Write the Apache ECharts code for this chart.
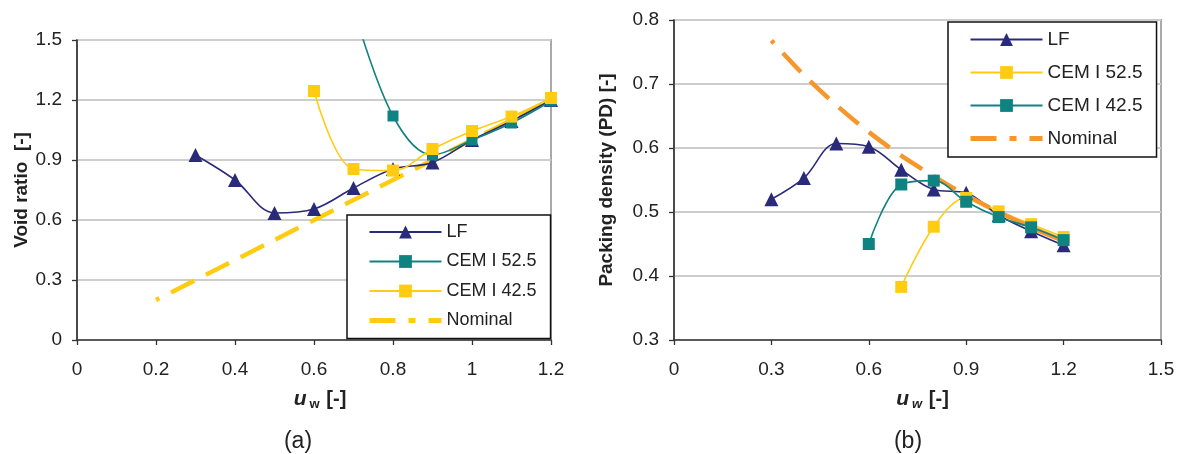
<!DOCTYPE html>
<html>
<head>
<meta charset="utf-8">
<title>Void ratio / packing density vs u_w</title>
<script src="https://cdn.jsdelivr.net/npm/echarts@6/dist/echarts.min.js"></script>
<style>html, body { margin: 0; background: #fff; }</style>
</head>
<body>
<div id="main" style="width:1184px; height:454px;"></div>
<script>
// ---- (a) void ratio ----
var lfU = [0.3, 0.4, 0.5, 0.6, 0.7, 0.8, 0.9, 1.0, 1.1, 1.2];
var voidLF = [0.925, 0.80, 0.635, 0.655, 0.76, 0.855, 0.888, 1.0, 1.095, 1.20];
var voidCem525U = [0.7, 0.8, 0.9, 1.0, 1.1, 1.2];
var voidCem525 = [1.66, 1.12, 0.925, 1.0, 1.085, 1.195];
var voidCem425U = [0.6, 0.7, 0.8, 0.9, 1.0, 1.1, 1.2];
var voidCem425 = [1.245, 0.855, 0.847, 0.955, 1.045, 1.117, 1.21];
var voidNomU = [0.2, 1.2];
var voidNom = [0.2, 1.2];

// ---- (b) packing density ----
var pdLF = [0.52, 0.553, 0.607, 0.602, 0.566, 0.535, 0.53, 0.495, 0.47, 0.448];
var pdCem525U = [0.7, 0.8, 0.9, 1.0, 1.1, 1.2];
var pdCem525 = [0.383, 0.477, 0.522, 0.501, 0.481, 0.461];
var pdCem425U = [0.6, 0.7, 0.8, 0.9, 1.0, 1.1, 1.2];
var pdCem425 = [0.45, 0.543, 0.549, 0.516, 0.492, 0.476, 0.456];
var pdNomU = [0.3, 0.4, 0.5, 0.6, 0.7, 0.8, 0.9, 1.0, 1.1, 1.2];
var pdNom = [0.768, 0.714, 0.667, 0.625, 0.588, 0.556, 0.526, 0.5, 0.476, 0.455];

var NAVY = '#2a2a7a', TEAL = '#0f8282', YELLOW = '#ffcc11', ORANGE = '#f7962a';
var FONT = '"Liberation Sans", Arial, sans-serif';

function pts(us, vs) {
    return us.map(function (u, i) { return [u, vs[i]]; });
}

function dataLine(name, idx, us, vs, color, symbol, size) {
    return {
        name: name, type: 'line', xAxisIndex: idx, yAxisIndex: idx,
        data: pts(us, vs), smooth: 0.35,
        symbol: symbol, symbolSize: size,
        lineStyle: { color: color, width: 1.6 },
        itemStyle: { color: color },
        emphasis: { disabled: true }
    };
}

function nomLine(name, idx, us, vs, color) {
    return {
        name: name, type: 'line', xAxisIndex: idx, yAxisIndex: idx,
        data: pts(us, vs), smooth: 0.35, symbol: 'none',
        lineStyle: { color: color, width: 4.5, type: [26, 13], dashOffset: 22, cap: 'butt' },
        itemStyle: { color: color },
        emphasis: { disabled: true }
    };
}

function xAxis(idx, max, interval, shift, subItalic) {
    return {
        gridIndex: idx, type: 'value', min: 0, max: max, interval: interval,
        name: '{u|u}{w|w}  {b|[-]}',
        nameLocation: 'middle', nameGap: 48,
        nameTextStyle: {
            padding: [0, 0, 0, shift],
            rich: {
                u: { fontFamily: FONT, fontSize: 21, fontWeight: 'bold', fontStyle: 'italic', color: '#222' },
                w: { fontFamily: FONT, fontSize: 13, fontWeight: 'bold', fontStyle: subItalic ? 'italic' : 'normal', color: '#222', padding: [10, 0, 0, 3] },
                b: { fontFamily: FONT, fontSize: 20, fontWeight: 'bold', color: '#222' }
            }
        },
        axisLine: { onZero: false, lineStyle: { color: '#333', width: 1.6 } },
        axisTick: { length: 5, lineStyle: { color: '#333', width: 1.3 } },
        axisLabel: { margin: 20, fontFamily: FONT, fontSize: 19, color: '#222' },
        splitLine: { show: false }
    };
}

function yAxis(idx, min, max, interval, name, gap) {
    return {
        gridIndex: idx, type: 'value', min: min, max: max, interval: interval,
        name: name, nameLocation: 'middle', nameGap: gap,
        nameTextStyle: { fontFamily: FONT, fontSize: 19, fontWeight: 'bold', color: '#222' },
        axisLine: { onZero: false, lineStyle: { color: '#333', width: 1.6 } },
        axisTick: { length: 5, lineStyle: { color: '#333', width: 1.3 } },
        axisLabel: { margin: 15, fontFamily: FONT, fontSize: 19, color: '#222' },
        splitLine: { lineStyle: { color: '#cdcdcd', width: 2 } }
    };
}

function legendBox(left, top, padding, gap, fontSize, names) {
    return {
        orient: 'vertical', left: left, top: top, padding: padding,
        itemGap: gap, itemWidth: 72, itemHeight: 16,
        borderColor: '#111', borderWidth: 1.5, backgroundColor: '#fff',
        selectedMode: false,
        formatter: function (n) { return n.replace(' (b)', ''); },
        textStyle: { fontFamily: FONT, fontSize: fontSize, color: '#222' },
        data: names
    };
}

// legend entry for the dashed nominal line: no marker, long-short-long dash
function nomEntry(name) {
    return {
        name: name,
        itemStyle: { opacity: 0 },
        lineStyle: { width: 5, type: [26, 13, 7, 13], dashOffset: 0 }
    };
}

var myChart = echarts.init(document.getElementById('main'));

var option = {
    animation: false,
    backgroundColor: '#fff',
    grid: [
        { left: 77, right: 633, top: 40, bottom: 114, show: true, borderColor: '#a9a9a9', borderWidth: 2 },
        { left: 674, right: 23, top: 20, bottom: 114, show: true, borderColor: '#a9a9a9', borderWidth: 2 }
    ],
    xAxis: [
        xAxis(0, 1.2, 0.2, 12, false),
        xAxis(1, 1.5, 0.3, 10, true)
    ],
    yAxis: [
        yAxis(0, 0, 1.5, 0.3, 'Void ratio  [-]', 45),
        yAxis(1, 0.3, 0.8, 0.1, 'Packing density (PD) [-]', 58)
    ],
    legend: [
        legendBox(347, 215, [8, 14, 9, 20], 11.5, 18, ['LF', 'CEM I 52.5', 'CEM I 42.5', nomEntry('Nominal')]),
        legendBox(948, 22, [8, 14, 9, 20], 14, 19, ['LF (b)', 'CEM I 52.5 (b)', 'CEM I 42.5 (b)', nomEntry('Nominal (b)')])
    ],
    series: [
        nomLine('Nominal', 0, voidNomU, voidNom, YELLOW),
        dataLine('LF', 0, lfU, voidLF, NAVY, 'triangle', 14),
        dataLine('CEM I 52.5', 0, voidCem525U, voidCem525, TEAL, 'rect', 11),
        dataLine('CEM I 42.5', 0, voidCem425U, voidCem425, YELLOW, 'rect', 12),

        dataLine('LF (b)', 1, lfU, pdLF, NAVY, 'triangle', 14),
        dataLine('CEM I 52.5 (b)', 1, pdCem525U, pdCem525, YELLOW, 'rect', 12),
        nomLine('Nominal (b)', 1, pdNomU, pdNom, ORANGE),
        dataLine('CEM I 42.5 (b)', 1, pdCem425U, pdCem425, TEAL, 'rect', 12)
    ],
    graphic: [
        { type: 'text', x: 298, y: 442, style: { text: '(a)', font: '23px ' + FONT, fill: '#222', textAlign: 'center', textVerticalAlign: 'middle' } },
        { type: 'text', x: 908, y: 442, style: { text: '(b)', font: '23px ' + FONT, fill: '#222', textAlign: 'center', textVerticalAlign: 'middle' } }
    ]
};

myChart.setOption(option);
</script>
</body>
</html>
